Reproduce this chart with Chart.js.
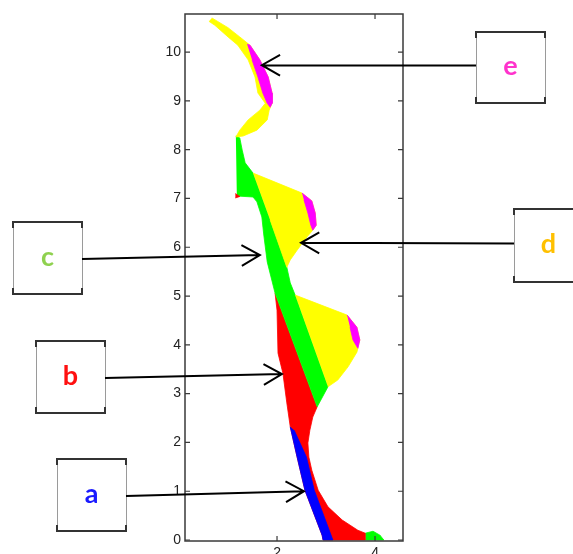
<!DOCTYPE html>
<html lang="en">
<head>
  <meta charset="UTF-8" />
  <title>Zones a-e</title>
  <script src="https://cdn.jsdelivr.net/npm/chart.js"></script>
  <style>
    html, body {
      margin: 0;
      padding: 0;
      background: #fff;
      overflow: hidden;
    }
    #wrap {
      width: 573px;
      height: 554px;
      overflow: hidden;
    }
  </style>
</head>
<body>
  <div id="wrap"><canvas id="zoneChart" width="573" height="570"></canvas></div>

  <script>
    // zone outlines, [x, y] in axis units
    const topBand = [[0.67,10.70],[1.00,10.50],[1.24,10.31],[1.45,10.14],[1.65,9.84],[1.82,9.49],[1.90,9.16],[1.90,8.95],
      [1.84,8.81],[1.80,8.61],[1.59,8.40],[1.31,8.28],[1.16,8.26],[1.24,8.40],[1.41,8.61],[1.65,8.81],[1.76,8.95],
      [1.61,9.16],[1.55,9.49],[1.41,9.84],[1.20,10.14],[1.00,10.31],[0.73,10.55],[0.61,10.63]];
    const eTop = [[1.39,10.16],[1.45,10.14],[1.65,9.84],[1.82,9.49],[1.90,9.16],[1.90,8.95],[1.86,8.87],[1.80,8.95],
      [1.71,9.16],[1.61,9.49],[1.49,9.84]];
    const cZone = [[1.16,8.28],[1.24,8.24],[1.29,7.99],[1.35,7.73],[1.51,7.52],[1.86,6.56],[2.20,5.59],[2.27,5.27],
      [2.37,5.02],[3.04,3.14],[2.82,2.73],[1.96,5.06],[1.80,5.70],[1.73,6.25],[1.69,6.62],[1.59,6.93],[1.51,7.03],[1.18,7.05]];
    const bDot = [[1.15,7.10],[1.24,7.04],[1.15,7.01]];
    const dUpper = [[1.51,7.52],[2.51,7.11],[2.71,6.95],[2.78,6.70],[2.80,6.45],[2.73,6.35],[2.61,6.21],[2.41,5.94],
      [2.27,5.74],[2.20,5.59],[1.86,6.56]];
    const eMid = [[2.51,7.11],[2.71,6.95],[2.78,6.70],[2.80,6.45],[2.73,6.35],[2.69,6.45],[2.63,6.70],[2.55,6.97]];
    const dLower = [[2.37,5.02],[3.43,4.61],[3.63,4.36],[3.69,4.10],[3.65,3.93],[3.63,3.85],[3.45,3.55],[3.24,3.28],[3.04,3.14]];
    const eLow = [[3.43,4.61],[3.63,4.36],[3.69,4.10],[3.65,3.93],[3.55,4.10],[3.49,4.36]];
    const bZone = [[1.96,5.06],[2.00,4.71],[2.02,3.83],[2.12,3.42],[2.20,2.81],[2.27,2.32],[2.41,1.70],[2.57,1.02],
      [2.92,0.10],[2.94,0],[3.80,0],[3.80,0.14],[3.65,0.20],[3.33,0.41],[3.04,0.68],[2.84,1.02],[2.71,1.43],
      [2.65,1.70],[2.63,1.99],[2.67,2.25],[2.73,2.52],[2.82,2.73]];
    const aZone = [[2.27,2.32],[2.41,1.70],[2.57,1.02],[2.92,0.10],[2.94,0],[3.14,0],[2.76,1.02],[2.60,1.70],[2.35,2.25]];
    const cFoot = [[3.80,0.14],[3.96,0.18],[4.10,0.10],[4.18,0],[3.80,0]];

    const xTicks = [2, 4];
    const yTicks = [0, 1, 2, 3, 4, 5, 6, 7, 8, 9, 10];

    // callouts: letter and where its arrow points (axis units)
    const calloutLabels = ['a', 'b', 'c', 'd', 'e'];
    const calloutTips = [[2.55, 1.00], [2.10, 3.40], [1.65, 5.84], [2.49, 6.09], [1.69, 9.73]];

    const zoneColors = { a: '#0000ff', b: '#ff0000', c: '#00ff00', d: '#ffff00', e: '#ff00ff' };
    const letterColors = ['#1a1aff', '#ff1010', '#8fd14f', '#ffc000', '#ff33cc'];
    // box rectangles in page pixels [left, top, right, bottom]
    const boxes = [[57,459,126,531],[36,341,105,413],[13,222,82,294],[514,209,583,282],[476,32,545,103]];

    function zone(points, color) {
      return {
        data: points.map(p => ({ x: p[0], y: p[1] })),
        showLine: true,
        fill: 'shape',
        backgroundColor: color,
        borderColor: color,
        borderWidth: 0.8,
        pointRadius: 0,
        tension: 0
      };
    }

    // first dataset is drawn on top
    const datasets = [
      zone(eTop, zoneColors.e),
      zone(eMid, zoneColors.e),
      zone(eLow, zoneColors.e),
      zone(aZone, zoneColors.a),
      zone(bDot, zoneColors.b),
      zone(dUpper, zoneColors.d),
      zone(dLower, zoneColors.d),
      zone(topBand, zoneColors.d),
      zone(cZone, zoneColors.c),
      zone(bZone, zoneColors.b),
      zone(cFoot, zoneColors.c)
    ];

    // box round the plot with inward ticks
    const framePlugin = {
      id: 'frame',
      afterDatasetsDraw(chart) {
        const { ctx, chartArea: a, scales } = chart;
        ctx.save();
        ctx.strokeStyle = '#3a3a3a';
        ctx.lineWidth = 1.5;
        ctx.strokeRect(a.left, a.top, a.right - a.left, a.bottom - a.top);
        ctx.lineWidth = 1.2;
        ctx.beginPath();
        yTicks.forEach(v => {
          const py = scales.y.getPixelForValue(v);
          ctx.moveTo(a.left, py); ctx.lineTo(a.left + 5, py);
          ctx.moveTo(a.right, py); ctx.lineTo(a.right - 5, py);
        });
        xTicks.forEach(v => {
          const px = scales.x.getPixelForValue(v);
          ctx.moveTo(px, a.bottom); ctx.lineTo(px, a.bottom - 5);
          ctx.moveTo(px, a.top); ctx.lineTo(px, a.top + 5);
        });
        ctx.stroke();
        ctx.restore();
      }
    };

    // lettered boxes with arrows
    const calloutPlugin = {
      id: 'callouts',
      afterDraw(chart) {
        const { ctx, scales } = chart;
        ctx.save();
        calloutLabels.forEach((label, i) => {
          const [l, t, r, b] = boxes[i];
          ctx.strokeStyle = '#9a9a9a';
          ctx.lineWidth = 1;
          ctx.strokeRect(l + 0.5, t + 0.5, r - l, b - t);
          ctx.strokeStyle = '#333';
          ctx.lineWidth = 2;
          ctx.beginPath();
          ctx.moveTo(l, t + 6); ctx.lineTo(l, t); ctx.lineTo(r, t); ctx.lineTo(r, t + 6);
          ctx.moveTo(l, b - 6); ctx.lineTo(l, b); ctx.lineTo(r, b); ctx.lineTo(r, b - 6);
          ctx.stroke();

          ctx.fillStyle = letterColors[i];
          ctx.font = 'bold 27px Lato, "Open Sans", sans-serif';
          ctx.textAlign = 'center';
          ctx.textBaseline = 'middle';
          ctx.fillText(label, (l + r) / 2, (t + b) / 2 - 1);

          const tx = scales.x.getPixelForValue(calloutTips[i][0]);
          const ty = scales.y.getPixelForValue(calloutTips[i][1]);
          const fromLeft = l > tx;
          const sx = fromLeft ? l : r;
          const sy = (t + b) / 2 + (fromLeft ? -2 : 1);
          const ang = Math.atan2(ty - sy, tx - sx);
          ctx.strokeStyle = '#000';
          ctx.lineWidth = 2;
          ctx.beginPath();
          ctx.moveTo(sx, sy);
          ctx.lineTo(tx, ty);
          ctx.moveTo(tx - 21 * Math.cos(ang - 0.52), ty - 21 * Math.sin(ang - 0.52));
          ctx.lineTo(tx, ty);
          ctx.lineTo(tx - 21 * Math.cos(ang + 0.52), ty - 21 * Math.sin(ang + 0.52));
          ctx.stroke();
        });
        ctx.restore();
      }
    };

    new Chart(document.getElementById('zoneChart'), {
      type: 'scatter',
      data: { datasets: datasets },
      options: {
        responsive: false,
        animation: false,
        devicePixelRatio: 1,
        layout: { padding: { left: 145, right: 170, top: 14, bottom: 9 } },
        plugins: {
          legend: { display: false },
          tooltip: { enabled: false }
        },
        scales: {
          x: {
            type: 'linear',
            min: 0.122,
            max: 4.571,
            grid: { display: false, drawTicks: false },
            border: { display: false },
            afterBuildTicks: s => { s.ticks = xTicks.map(v => ({ value: v })); },
            afterFit: s => { s.height = 20; },
            ticks: {
              padding: 4,
              color: '#222',
              font: { family: 'Liberation Sans, Arial, sans-serif', size: 14 }
            }
          },
          y: {
            type: 'linear',
            min: -0.02,
            max: 10.78,
            grid: { display: false, drawTicks: false },
            border: { display: false },
            afterBuildTicks: s => { s.ticks = yTicks.map(v => ({ value: v })); },
            afterFit: s => { s.width = 40; },
            ticks: {
              padding: 4,
              color: '#222',
              font: { family: 'Liberation Sans, Arial, sans-serif', size: 14 }
            }
          }
        }
      },
      plugins: [framePlugin, calloutPlugin]
    });
  </script>
</body>
</html>
